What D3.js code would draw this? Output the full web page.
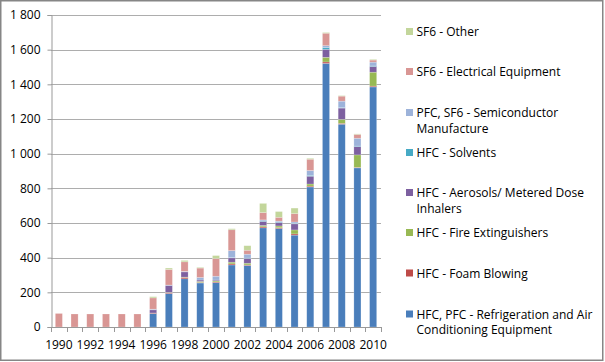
<!DOCTYPE html>
<html>
<head>
<meta charset="utf-8">
<script src="https://cdn.jsdelivr.net/npm/d3@7"></script>
<style>
  body { margin: 0; background: #fff; }
  svg text { font-family: 'Open Sans', Lato, sans-serif; fill: #000; }
</style>
</head>
<body>
<svg id="chart" width="605" height="362"></svg>
<script>
var years = ['1990', '1991', '1992', '1993', '1994', '1995', '1996', '1997', '1998', '1999',
  '2000', '2001', '2002', '2003', '2004', '2005', '2006', '2007', '2008', '2009', '2010'];

// series, bottom of the stack first
var refrigeration = [0, 0, 0, 0, 0, 0, 78, 193, 278, 254, 256, 358, 355, 572, 568, 530, 808, 1521, 1170, 918, 1385];
var foamBlowing = [0, 0, 0, 0, 0, 0, 3, 5, 8, 3, 4, 6, 3, 6, 5, 7, 5, 8, 5, 3, 5];
var fireExtinguishers = [0, 0, 0, 0, 0, 0, 0, 2, 2, 6, 6, 10, 10, 8, 10, 23, 12, 27, 23, 72, 80];
var aerosols = [0, 0, 0, 0, 0, 0, 18, 40, 30, 8, 5, 25, 28, 23, 20, 35, 45, 46, 65, 48, 33];
var solvents = [0, 0, 0, 0, 0, 0, 0, 0, 0, 0, 0, 2, 2, 3, 3, 3, 5, 10, 3, 3, 3];
var semiconductor = [0, 0, 0, 0, 0, 0, 4, 2, 3, 15, 22, 40, 22, 6, 5, 8, 28, 11, 37, 45, 22];
var electrical = [78, 75, 75, 75, 75, 75, 65, 90, 55, 54, 102, 120, 23, 42, 22, 48, 65, 72, 29, 22, 12];
var sf6Other = [0, 0, 0, 0, 0, 0, 7, 8, 8, 4, 17, 6, 26, 53, 33, 32, 5, 4, 3, 3, 4];

var yTicks = [0, 200, 400, 600, 800, 1000, 1200, 1400, 1600, 1800];

var series = [
  {key: 'refrig', name: ['HFC, PFC - Refrigeration and Air', 'Conditioning Equipment'], values: refrigeration, color: '#4a7ebb'},
  {key: 'foam', name: ['HFC - Foam Blowing'], values: foamBlowing, color: '#be4b48'},
  {key: 'fire', name: ['HFC - Fire Extinguishers'], values: fireExtinguishers, color: '#98b954'},
  {key: 'aero', name: ['HFC - Aerosols/ Metered Dose', 'Inhalers'], values: aerosols, color: '#7d60a0'},
  {key: 'solv', name: ['HFC - Solvents'], values: solvents, color: '#46aac5'},
  {key: 'semi', name: ['PFC, SF6 - Semiconductor', 'Manufacture'], values: semiconductor, color: '#9db3da'},
  {key: 'elec', name: ['SF6 - Electrical Equipment'], values: electrical, color: '#d99694'},
  {key: 'other', name: ['SF6 - Other'], values: sf6Other, color: '#c3d69b'}
];

var table = years.map(function(y, i) {
  var row = {year: y};
  series.forEach(function(s) { row[s.key] = s.values[i]; });
  return row;
});

var svg = d3.select('#chart');
var margin = {left: 51, right: 224, top: 15, bottom: 35};
var width = 605, height = 362;

// chart area frame
svg.append('rect')
  .attr('x', 0.75).attr('y', 0.75)
  .attr('width', width - 3).attr('height', height - 2.5)
  .attr('fill', '#fff')
  .attr('stroke', '#868686')
  .attr('stroke-width', 1.5);

var x = d3.scaleBand()
  .domain(years)
  .range([margin.left, width - margin.right])
  .paddingInner(0.55)
  .paddingOuter(0.275);

var y = d3.scaleLinear()
  .domain([0, 1800])
  .range([height - margin.bottom, margin.top]);

var locale = d3.formatLocale({decimal: ',', thousands: ' ', grouping: [3], currency: ['', '']});
var fmt = locale.format(',d');

// gridlines
svg.append('g')
  .selectAll('line')
  .data(yTicks.slice(1))
  .join('line')
  .attr('x1', margin.left).attr('x2', x.range()[1])
  .attr('y1', function(d) { return Math.round(y(d)) + 0.5; })
  .attr('y2', function(d) { return Math.round(y(d)) + 0.5; })
  .attr('stroke', '#adadad')
  .attr('stroke-width', 1);

// y axis
var yAxis = svg.append('g')
  .attr('transform', 'translate(' + (margin.left + 0.5) + ',0)')
  .call(d3.axisLeft(y).tickValues(yTicks).tickFormat(fmt).tickSize(4).tickPadding(7));
yAxis.select('.domain').attr('stroke', '#999');
yAxis.selectAll('.tick line').attr('stroke', '#999');
yAxis.selectAll('.tick text').style('font-size', '12px').attr('fill', '#000');

// stacked bars
var stack = d3.stack().keys(series.map(function(s) { return s.key; }));
var layers = stack(table);

svg.append('g')
  .selectAll('g')
  .data(layers)
  .join('g')
  .attr('fill', function(d, i) { return series[i].color; })
  .selectAll('rect')
  .data(function(d) { return d; })
  .join('rect')
  .attr('x', function(d) { return x(d.data.year); })
  .attr('width', x.bandwidth())
  .attr('y', function(d) { return y(d[1]); })
  .attr('height', function(d) { return Math.max(0, y(d[0]) - y(d[1])); })
  .attr('stroke', 'rgba(255,255,255,0.35)')
  .attr('stroke-width', 0.6);

// x axis: ticks between categories, labels every other year
var x0 = y(0);
var xg = svg.append('g');
xg.append('line')
  .attr('x1', margin.left).attr('x2', x.range()[1])
  .attr('y1', Math.round(x0) + 0.5).attr('y2', Math.round(x0) + 0.5)
  .attr('stroke', '#999');
var bounds = years.map(function(d) { return x(d) - x.step() * x.paddingInner() / 2; });
bounds.push(x.range()[1]);
xg.selectAll('line.tk')
  .data(bounds)
  .join('line')
  .attr('class', 'tk')
  .attr('x1', function(d) { return Math.round(d) + 0.5; })
  .attr('x2', function(d) { return Math.round(d) + 0.5; })
  .attr('y1', x0).attr('y2', x0 + 5)
  .attr('stroke', '#999');
xg.selectAll('text')
  .data(years.filter(function(d, i) { return i % 2 === 0; }))
  .join('text')
  .attr('x', function(d) { return x(d) + x.bandwidth() / 2; })
  .attr('y', x0 + 22)
  .attr('text-anchor', 'middle')
  .style('font-size', '12px')
  .text(function(d) { return d; });

// legend, top to bottom is reverse stack order
var legendTops = [31.5, 71.5, 112.5, 152.5, 192.5, 232.5, 273, 314];
var legend = svg.append('g')
  .selectAll('g')
  .data(series.slice().reverse())
  .join('g')
  .attr('transform', function(d, i) { return 'translate(406,' + legendTops[i] + ')'; });

legend.append('rect')
  .attr('x', 0).attr('y', -3.5)
  .attr('width', 7).attr('height', 7)
  .attr('fill', function(d) { return d.color; });

legend.append('text')
  .attr('x', 10.5)
  .attr('y', 4.5)
  .style('font-size', '12px')
  .selectAll('tspan')
  .data(function(d) { return d.name; })
  .join('tspan')
  .attr('x', 10.5)
  .attr('dy', function(d, i) { return i ? 15.5 : 0; })
  .text(function(d) { return d; });
</script>
</body>
</html>
